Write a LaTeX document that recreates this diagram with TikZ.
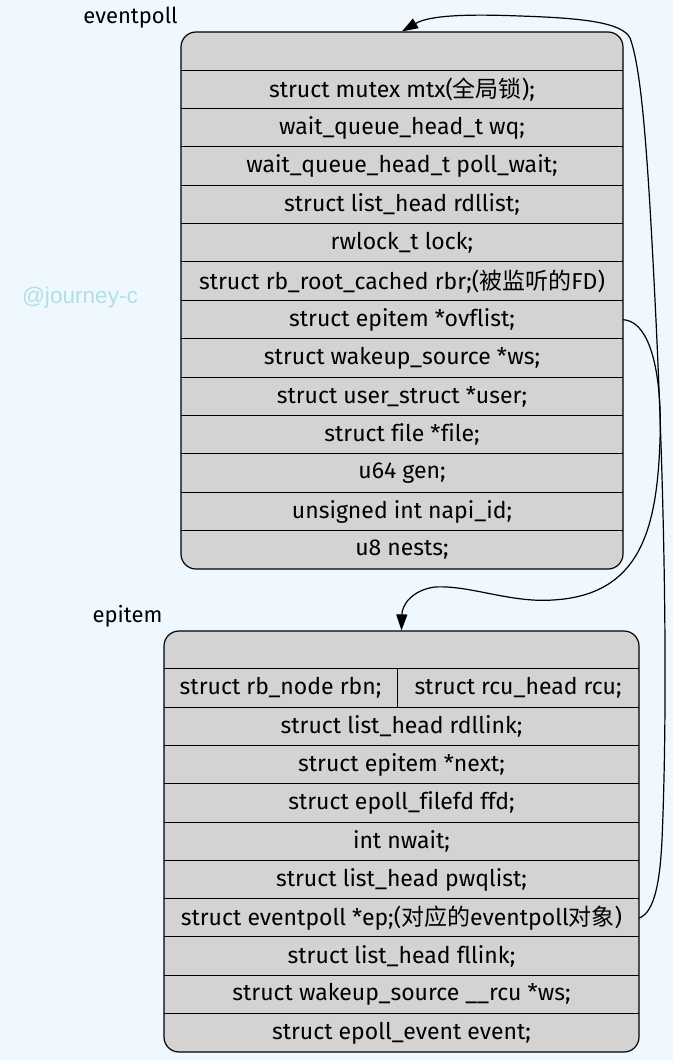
\documentclass[tikz,border=0pt]{standalone}
\usepackage{fontspec}
\setmainfont[Ligatures=NoCommon]{Fira Sans}
\newfontfamily\cjk{Noto Sans CJK SC}
\newfontfamily\wmfont{Liberation Sans}
\usetikzlibrary{arrows.meta}

\definecolor{bgblue}{HTML}{F0F8FF}
\definecolor{cellgray}{HTML}{D3D3D3}
\definecolor{wmcolor}{HTML}{B0E0E6}

\newcommand{\fieldfont}{\fontsize{23}{27}\selectfont}
\newcommand{\tagfont}{\fontsize{22}{26}\selectfont}

\tikzset{
  record/.style={draw=black, fill=cellgray, line width=1.2pt, rounded corners=15pt, inner sep=0pt},
  field/.style={minimum height=38.3pt, inner sep=0pt, font=\fieldfont},
  rowline/.style={line width=1pt},
  tag/.style={inner sep=0pt, font=\tagfont},
  wmark/.style={inner sep=0pt, text=wmcolor, font=\wmfont\fontsize{22.6}{26}\selectfont},
  link/.style={line width=1.2pt, -{Triangle[length=16pt,width=11pt]}}
}

\begin{document}
\begin{tikzpicture}[x=1pt, y=-1pt]

% background
\fill[bgblue] (0,0) rectangle (673,1060);
\useasboundingbox (0,0) rectangle (673,1060);

% watermark
\node[wmark] (mark) at (80,298) {@journey-c};

% eventpoll record
\node[tag] (evptag) at (130.5,18) {eventpoll};
\node[record, minimum width=442pt, minimum height=537pt] (evp) at (402,300.5) {};
\foreach \i/\txt in {
  1/{struct mutex mtx({\cjk 全局锁});},
  2/{wait\_queue\_head\_t wq;},
  3/{wait\_queue\_head\_t poll\_wait;},
  4/{struct list\_head rdllist;},
  5/{rwlock\_t lock;},
  6/{struct rb\_root\_cached rbr;({\cjk 被监听的}FD)},
  7/{struct epitem *ovflist;},
  8/{struct wakeup\_source *ws;},
  9/{struct user\_struct *user;},
  10/{struct file *file;},
  11/{u64 gen;},
  12/{unsigned int napi\_id;},
  13/{u8 nests;}}
{
  \node[field, minimum width=442pt] (evp-\i) at (402, 32+38.36*\i+19.18) {\txt};
  \draw[rowline] (evp-\i.north west) -- (evp-\i.north east);
}

% epitem record
\node[tag] (epitag) at (127.5,616) {epitem};
\node[record, minimum width=475pt, minimum height=421pt] (epi) at (401.5,841.5) {};
\node[field, minimum width=233pt] (epi-1a) at (280.5, 688.1) {struct rb\_node rbn;};
\node[field, minimum width=242pt] (epi-1b) at (518, 688.1) {struct rcu\_head rcu;};
\draw[rowline] (epi-1a.north west) -- (epi-1b.north east);
\draw[rowline] (epi-1a.north east) -- (epi-1a.south east);
\foreach \i/\txt in {
  2/{struct list\_head rdllink;},
  3/{struct epitem *next;},
  4/{struct epoll\_filefd ffd;},
  5/{int nwait;},
  6/{struct list\_head pwqlist;},
  7/{struct eventpoll *ep;({\cjk 对应的}eventpoll{\cjk 对象})},
  8/{struct list\_head fllink;},
  9/{struct wakeup\_source \_\_rcu *ws;},
  10/{struct epoll\_event event;}}
{
  \node[field, minimum width=475pt] (epi-\i) at (401.5, 631+38.27*\i+19.14) {\txt};
  \draw[rowline] (epi-\i.north west) -- (epi-\i.north east);
}

% ovflist -> epitem
\draw[link] (evp-7.east) .. controls (655,322) and (662,390) .. (660,440)
  .. controls (657,530) and (640,595) .. (553,600)
  .. controls (510,603) and (470,585) .. (435,587)
  .. controls (412,590) and (402,605) .. (epi.north);

% ep -> eventpoll
\draw[link] (epi-7.east) .. controls (655,912) and (660,880) .. (662,840)
  .. controls (668,700) and (665,500) .. (655,300)
  .. controls (648,160) and (642,70) .. (630,38)
  .. controls (622,22) and (580,18) .. (520,16)
  .. controls (470,14) and (430,15) .. (evp.north);

\end{tikzpicture}
\end{document}
